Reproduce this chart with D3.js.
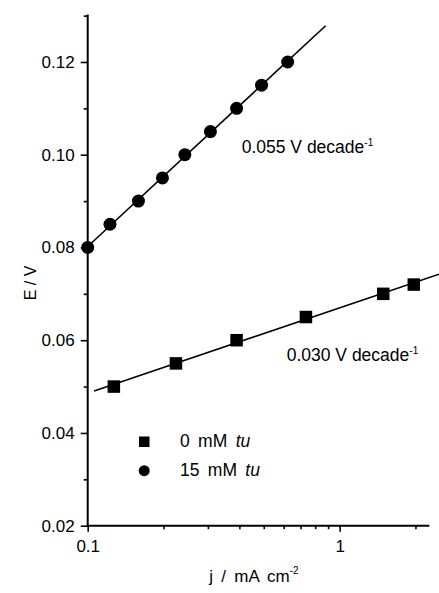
<!DOCTYPE html>
<html>
<head>
<meta charset="utf-8">
<script src="https://cdn.jsdelivr.net/npm/d3@7"></script>
<style>
  body { margin: 0; background: #fff; }
  text { font-family: "Liberation Sans", Arial, Helvetica, sans-serif; fill: #000; }
</style>
</head>
<body>
<svg id="chart" width="439" height="593"></svg>
<script>
// 15 mM tu (circles)
const jTu15 = [0.100, 0.1226, 0.159, 0.198, 0.243, 0.307, 0.390, 0.490, 0.622];
const eTu15 = [0.080, 0.085, 0.090, 0.095, 0.100, 0.105, 0.110, 0.115, 0.120];
// 0 mM tu (squares)
const jTu0 = [0.127, 0.224, 0.390, 0.735, 1.49, 1.97];
const eTu0 = [0.050, 0.055, 0.060, 0.065, 0.070, 0.072];
// fit line extents (j)
const fitRange15 = [0.1, 0.88];
const fitRange0 = [0.106, 2.48];
// ticks
const yMajor = [0.02, 0.04, 0.06, 0.08, 0.10, 0.12];
const yMinor = [0.03, 0.05, 0.07, 0.09, 0.11, 0.13];
const xMajor = [0.1, 1];
const xMinor = [0.2, 0.3, 0.4, 0.5, 0.6, 0.7, 0.8, 0.9, 2];

const svg = d3.select("#chart");

const x = d3.scaleLog().domain([0.1, 2.27]).range([87.7, 429.3]);
const y = d3.scaleLinear().domain([0.02, 0.13]).range([525.7, 15.6]);

//最小二乘拟合 (in log j)
function fit(js, es) {
    const lx = js.map(d => Math.log10(d));
    const mx = d3.mean(lx), my = d3.mean(es);
    let sxy = 0, sxx = 0;
    lx.forEach((v, i) => {
        sxy += (v - mx) * (es[i] - my);
        sxx += (v - mx) * (v - mx);
    });
    const b = sxy / sxx;
    return j => my + b * (Math.log10(j) - mx);
}

const f15 = fit(jTu15, eTu15);
const f0 = fit(jTu0, eTu0);

const line = d3.line().x(d => x(d[0])).y(d => y(d[1]));

svg.append("path")
    .attr("d", line(fitRange15.map(j => [j, f15(j)])))
    .attr("stroke", "#000")
    .attr("stroke-width", 1.6)
    .attr("fill", "none");

svg.append("path")
    .attr("d", line(fitRange0.map(j => [j, f0(j)])))
    .attr("stroke", "#000")
    .attr("stroke-width", 1.6)
    .attr("fill", "none");

//axes
const fs = 17;
const yAxis = svg.append("g").attr("transform", "translate(87.7,0)");
yAxis.call(d3.axisLeft(y).tickValues(yMajor).tickSize(7).tickPadding(6).tickFormat(d3.format(".2f")));
yAxis.call(g => g.append("g").call(d3.axisLeft(y).tickValues(yMinor).tickSize(4).tickFormat("")));

const xAxis = svg.append("g").attr("transform", "translate(0,525.7)");
xAxis.call(d3.axisBottom(x).tickValues(xMajor).tickSize(6).tickPadding(8).tickFormat(d3.format("")));
xAxis.call(g => g.append("g").call(d3.axisBottom(x).tickValues(xMinor).tickSize(3.5).tickFormat("")));

svg.selectAll(".domain").attr("stroke-width", 2).attr("d", null);
svg.selectAll(".tick line").attr("stroke-width", 1.6);
svg.selectAll(".tick text").style("font-size", fs + "px").attr("font-family", null);

// axis lines
svg.append("line")
    .attr("x1", x(0.1)).attr("x2", x(0.1))
    .attr("y1", y(0.13) - 1).attr("y2", y(0.02) + 1)
    .attr("stroke", "#000").attr("stroke-width", 2);
svg.append("line")
    .attr("x1", x(0.1) - 1).attr("x2", x(2.27))
    .attr("y1", y(0.02)).attr("y2", y(0.02))
    .attr("stroke", "#000").attr("stroke-width", 2);

//data points
svg.append("g")
    .selectAll("circle")
    .data(jTu15)
    .join("circle")
    .attr("cx", d => x(d))
    .attr("cy", (d, i) => y(eTu15[i]))
    .attr("r", 6.5)
    .attr("fill", "#000");

const sq = 12.5;
svg.append("g")
    .selectAll("rect")
    .data(jTu0)
    .join("rect")
    .attr("x", d => x(d) - sq / 2)
    .attr("y", (d, i) => y(eTu0[i]) - sq / 2)
    .attr("width", sq)
    .attr("height", sq)
    .attr("fill", "#000");

//annotations
function slopeLabel(px, py, val) {
    const t = svg.append("text")
        .attr("x", px)
        .attr("y", py)
        .style("font-size", "17.5px");
    t.append("tspan").text(val + " V decade");
    t.append("tspan").attr("dy", -7).style("font-size", "10px").text("-1");
}
slopeLabel(241.7, 153.3, "0.055");
slopeLabel(286.7, 360.7, "0.030");

//legend
const legend = svg.append("g");
legend.append("rect")
    .attr("x", 139).attr("y", 436.5).attr("width", 10.5).attr("height", 10.5)
    .attr("fill", "#000");
legend.append("circle")
    .attr("cx", 144.2).attr("cy", 470.7).attr("r", 5.5)
    .attr("fill", "#000");

const lt1 = legend.append("text").attr("x", 180).attr("y", 446.7).style("font-size", "17.5px").style("word-spacing", "3.5px");
lt1.append("tspan").text("0 mM ");
lt1.append("tspan").style("font-style", "italic").text("tu");
const lt2 = legend.append("text").attr("x", 180).attr("y", 475.5).style("font-size", "17.5px").style("word-spacing", "3.5px");
lt2.append("tspan").text("15 mM ");
lt2.append("tspan").style("font-style", "italic").text("tu");

//axis titles
const xt = svg.append("text")
    .attr("x", 209.3)
    .attr("y", 582.3)
    .style("font-size", "17px")
    .style("word-spacing", "3.5px");
xt.append("tspan").text("j / mA cm");
xt.append("tspan").attr("dy", -8).style("font-size", "10px").text("-2");

svg.append("text")
    .attr("transform", "translate(36,283) rotate(-90)")
    .attr("text-anchor", "middle")
    .style("font-size", "16px")
    .text("E / V");
</script>
</body>
</html>
